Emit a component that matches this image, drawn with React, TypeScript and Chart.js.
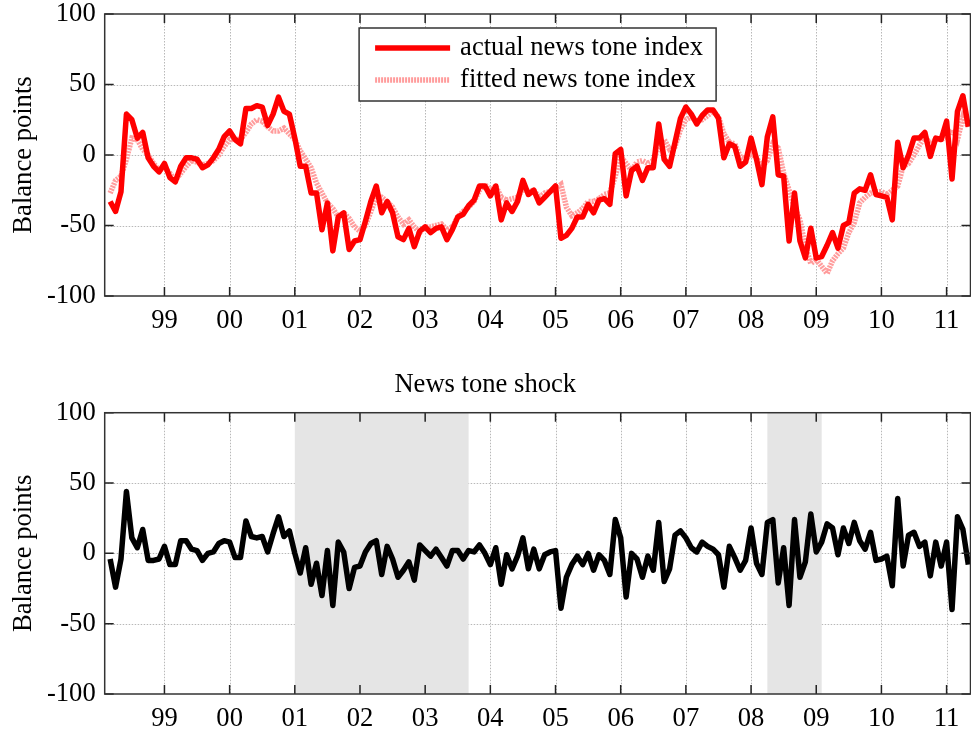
import { useEffect, useRef } from "react";
import { Chart, registerables } from "chart.js";

Chart.register(...registerables);

// Months counted from Jan 1998 (0 = Jan 1998). First observation: Mar 1998.
const FIRST_MONTH = 2;
const AXIS_MIN_MONTH = 1;
const AXIS_MAX_MONTH = 160.4;

const yearTickMonths = [12, 24, 36, 48, 60, 72, 84, 96, 108, 120, 132, 144, 156];
const yearTickLabels = ["99", "00", "01", "02", "03", "04", "05", "06", "07", "08", "09", "10", "11"];
const yTickValues = [-100, -50, 0, 50, 100];

const actualTone = [
  -33, -40, -26, 29, 25, 12, 16, -2, -8, -12,
  -6, -16, -19, -8, -2, -2, -3, -9, -7, -2,
  4, 13, 17, 11, 8, 33, 33, 35, 34, 21,
  29, 41, 31, 29, 12, -8, -8, -27, -27, -53,
  -34, -68, -44, -41, -67, -61, -60, -47, -33, -22,
  -41, -33, -41, -58, -60, -52, -65, -54, -51, -55,
  -52, -51, -60, -53, -44, -42, -36, -32, -22, -22,
  -29, -22, -46, -34, -40, -33, -18, -28, -25, -34,
  -30, -26, -22, -59, -57, -52, -44, -44, -35, -41,
  -32, -31, -35, 1, 4, -29, -11, -8, -18, -9,
  -9, 22, -3, -8, 9, 26, 34, 29, 22, 28,
  32, 32, 26, -2, 8, 6, -8, -5, 12, -3,
  -21, 13, 27, -14, -15, -61, -27, -61, -73, -52,
  -73, -72, -64, -55, -66, -50, -48, -27, -24, -25,
  -14, -28, -29, -30, -46, 9, -9, 0, 12, 12,
  16, -1, 12, 11, 24, -17, 31, 42, 20,
];

const fittedTone = [
  -27, -18, -15, -3, 12, 11, 4, 0, -6, -11,
  -9, -13, -18, -13, -8, -4, -5, -7, -6, -4,
  0, 6, 11, 11, 11, 16, 22, 25, 24, 20,
  17, 17, 19, 15, 11, 3, -3, -9, -20, -27,
  -34, -38, -44, -41, -45, -51, -54, -50, -40, -30,
  -30, -33, -37, -44, -49, -46, -51, -55, -51, -51,
  -50, -49, -53, -51, -44, -40, -37, -33, -25, -21,
  -25, -22, -30, -32, -31, -30, -24, -26, -25, -30,
  -27, -26, -24, -21, -37, -43, -41, -38, -33, -33,
  -31, -28, -27, -15, -1, -6, -11, -5, -4, -6,
  -4, 6, 11, 4, 6, 18, 25, 27, 24, 25,
  28, 31, 27, 15, 9, 8, -1, -3, 1, -2,
  -8, -4, 8, 5, -13, -25, -37, -46, -65, -77,
  -74, -79, -84, -75, -70, -66, -55, -48, -34, -30,
  -27, -26, -26, -28, -25, -22, -8, -6, 0, 7,
  13, 8, 11, 11, 13, 18, 11, 27, 20,
];

const toneShock = [
  -4, -24, -4, 44, 11, 4, 17, -5, -5, -4,
  5, -8, -8, 9, 9, 3, 2, -5, 0, 1,
  7, 9, 8, -3, -3, 23, 12, 11, 12, 1,
  14, 26, 12, 16, 0, -14, 4, -22, -7, -30,
  2, -37, 8, 1, -25, -10, -9, 1, 7, 9,
  -15, 5, -4, -17, -12, -6, -19, 6, 2, -2,
  3, -3, -9, 2, 2, -4, 2, 1, 6, 0,
  -8, 4, -22, -1, -11, -2, 11, -11, 3, -11,
  -1, 1, 2, -39, -17, -8, -2, -8, 0, -12,
  -1, -5, -15, 24, 11, -31, 0, -4, -17, -2,
  -12, 22, -20, -11, 13, 16, 11, 4, 1, 8,
  5, 3, -1, -24, 5, -3, -12, -5, 18, -7,
  -15, 22, 24, -21, 4, -37, 24, -17, -6, 28,
  1, 8, 21, 18, -1, 18, 7, 22, 9, 3,
  15, -5, -4, -2, -23, 39, -9, 13, 15, 5,
  8, -16, 8, -9, 8, -40, 26, 17, -8,
];

// Shaded periods in the shock panel (month indices)
const shadeStartMonths = [36, 123];
const shadeEndMonths = [68, 133];

const FONT_FAMILY = "'Liberation Serif', 'Times New Roman', Times, serif";
const FONT_SIZE = 26.6;

const toPoints = (vals: number[]) => vals.map((v, i) => ({ x: FIRST_MONTH + i, y: v }));

const framePlugin = {
  id: "frame",
  beforeDatasetsDraw(chart: any, _args: any, opts: any) {
    const { ctx, chartArea: a, scales } = chart;
    const x = scales.x;
    const y = scales.y;
    ctx.save();
    // dotted grid
    ctx.strokeStyle = "#b8b8b8";
    ctx.lineWidth = 1;
    ctx.setLineDash([1.5, 1.5]);
    yearTickMonths.forEach((m) => {
      const px = Math.round(x.getPixelForValue(m)) + 0.5;
      ctx.beginPath();
      ctx.moveTo(px, a.top);
      ctx.lineTo(px, a.bottom);
      ctx.stroke();
    });
    yTickValues.forEach((v) => {
      if (v === -100 || v === 100) return;
      const py = Math.round(y.getPixelForValue(v)) + 0.5;
      ctx.beginPath();
      ctx.moveTo(a.left, py);
      ctx.lineTo(a.right, py);
      ctx.stroke();
    });
    ctx.setLineDash([]);
    // shading
    const starts: number[] = (opts && opts.shadeStarts) || [];
    const ends: number[] = (opts && opts.shadeEnds) || [];
    ctx.fillStyle = "#e5e5e5";
    starts.forEach((s, i) => {
      const x0 = x.getPixelForValue(s);
      const x1 = x.getPixelForValue(ends[i]);
      ctx.fillRect(x0, a.top, x1 - x0, a.bottom - a.top);
    });
    ctx.restore();
  },
  afterDatasetsDraw(chart: any) {
    const { ctx, chartArea: a, scales } = chart;
    const x = scales.x;
    const y = scales.y;
    ctx.save();
    ctx.strokeStyle = "#222";
    ctx.lineWidth = 1.5;
    const tl = 9;
    yearTickMonths.forEach((m) => {
      const px = x.getPixelForValue(m);
      ctx.beginPath();
      ctx.moveTo(px, a.bottom);
      ctx.lineTo(px, a.bottom - tl);
      ctx.moveTo(px, a.top);
      ctx.lineTo(px, a.top + tl);
      ctx.stroke();
    });
    yTickValues.forEach((v) => {
      const py = y.getPixelForValue(v);
      ctx.beginPath();
      ctx.moveTo(a.left, py);
      ctx.lineTo(a.left + tl, py);
      ctx.moveTo(a.right, py);
      ctx.lineTo(a.right - tl, py);
      ctx.stroke();
    });
    ctx.strokeStyle = "#333";
    ctx.lineWidth = 1.5;
    ctx.strokeRect(a.left, a.top, a.right - a.left, a.bottom - a.top);
    ctx.restore();
  },
};

const toneLegendPlugin = {
  id: "toneLegend",
  afterDraw(chart: any, _args: any, opts: any) {
    if (!opts || !opts.display) return;
    const { ctx, chartArea: a } = chart;
    const w = 357;
    const h = 73;
    const cx = (a.left + a.right) / 2;
    const bx = cx - w / 2;
    const by = a.top + 14;
    ctx.save();
    ctx.fillStyle = "#fff";
    ctx.fillRect(bx, by, w, h);
    ctx.strokeStyle = "#333";
    ctx.lineWidth = 1.5;
    ctx.strokeRect(bx, by, w, h);
    ctx.font = `${FONT_SIZE}px ${FONT_FAMILY}`;
    ctx.textBaseline = "middle";
    ctx.textAlign = "left";
    chart.data.datasets.forEach((ds: any, i: number) => {
      const ry = by + 20 + i * 32;
      ctx.strokeStyle = ds.borderColor;
      ctx.lineWidth = ds.borderWidth;
      ctx.setLineDash(ds.borderDash || []);
      ctx.beginPath();
      ctx.moveTo(bx + 16, ry);
      ctx.lineTo(bx + 91, ry);
      ctx.stroke();
      ctx.setLineDash([]);
      ctx.fillStyle = "#000";
      ctx.fillText(ds.label, bx + 101, ry);
    });
    ctx.restore();
  },
};

function makeScales(xHeight: number) {
  const font = { family: FONT_FAMILY, size: FONT_SIZE };
  return {
    x: {
      type: "linear" as const,
      min: AXIS_MIN_MONTH,
      max: AXIS_MAX_MONTH,
      grid: { display: false, drawTicks: false },
      border: { display: false },
      afterBuildTicks: (s: any) => {
        s.ticks = yearTickMonths.map((v) => ({ value: v }));
      },
      afterFit: (s: any) => {
        s.height = xHeight;
        s.paddingLeft = 0;
        s.paddingRight = 0;
      },
      ticks: {
        autoSkip: false,
        maxRotation: 0,
        minRotation: 0,
        padding: 9.5,
        color: "#000",
        font,
        callback: (_v: any, i: number) => yearTickLabels[i],
      },
    },
    y: {
      type: "linear" as const,
      min: -100,
      max: 100,
      grid: { display: false, drawTicks: false },
      border: { display: false },
      afterBuildTicks: (s: any) => {
        s.ticks = yTickValues.map((v) => ({ value: v }));
      },
      afterFit: (s: any) => {
        s.width = 104.7;
        s.paddingTop = 0;
        s.paddingBottom = 0;
      },
      ticks: { padding: 9, color: "#000", font },
      title: {
        display: true,
        text: "Balance points",
        color: "#000",
        font,
        padding: { top: 8, bottom: 0 },
      },
    },
  };
}

export default function App() {
  const topRef = useRef<HTMLCanvasElement | null>(null);
  const botRef = useRef<HTMLCanvasElement | null>(null);

  useEffect(() => {
    const top = new Chart(topRef.current as HTMLCanvasElement, {
      type: "line",
      data: {
        datasets: [
          {
            label: "actual news tone index",
            data: toPoints(actualTone),
            borderColor: "#ff0000",
            borderWidth: 5.5,
            pointRadius: 0,
            tension: 0,
            borderJoinStyle: "round",
          },
          {
            label: "fitted news tone index",
            data: toPoints(fittedTone),
            borderColor: "#ff9c9c",
            borderWidth: 5.5,
            borderDash: [2, 1],
            pointRadius: 0,
            tension: 0,
          },
        ],
      },
      options: {
        responsive: false,
        animation: false,
        events: [],
        layout: { padding: { top: 14, right: 0.5, left: 0, bottom: 0 }, autoPadding: false },
        plugins: {
          legend: { display: false },
          tooltip: { enabled: false },
          title: { display: false },
          toneLegend: { display: true },
        } as any,
        scales: makeScales(54) as any,
      },
      plugins: [framePlugin, toneLegendPlugin],
    });

    const bot = new Chart(botRef.current as HTMLCanvasElement, {
      type: "line",
      data: {
        datasets: [
          {
            label: "News tone shock",
            data: toPoints(toneShock),
            borderColor: "#000000",
            borderWidth: 5.5,
            pointRadius: 0,
            tension: 0,
            borderJoinStyle: "round",
          },
        ],
      },
      options: {
        responsive: false,
        animation: false,
        events: [],
        layout: { padding: { top: 0, right: 0.5, left: 0, bottom: 0 }, autoPadding: false },
        plugins: {
          legend: { display: false },
          tooltip: { enabled: false },
          title: {
            display: true,
            text: "News tone shock",
            color: "#000",
            font: { family: FONT_FAMILY, size: FONT_SIZE, weight: "normal" },
            padding: { top: 19, bottom: 11.8 },
          },
          frame: { shadeStarts: shadeStartMonths, shadeEnds: shadeEndMonths },
        } as any,
        scales: makeScales(37) as any,
      },
      plugins: [framePlugin],
    });

    return () => {
      top.destroy();
      bot.destroy();
    };
  }, []);

  return (
    <div style={{ position: "absolute", left: 0, top: 0, width: 971, height: 731, background: "#fff" }}>
      <canvas ref={topRef} width={971} height={350} style={{ position: "absolute", left: 0, top: 0 }} />
      <canvas ref={botRef} width={971} height={381} style={{ position: "absolute", left: 0, top: 350 }} />
    </div>
  );
}
